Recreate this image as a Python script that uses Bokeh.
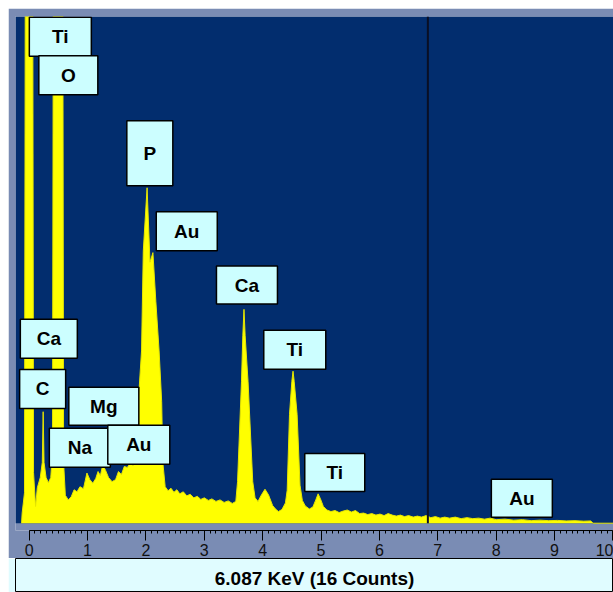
from bokeh.plotting import figure
from bokeh.models import BoxAnnotation, Range1d, FixedTicker, ColumnDataSource
from bokeh.layouts import column
from bokeh.core.properties import value
from bokeh.embed import file_html
from bokeh.resources import INLINE

# ---------------- data (energy in keV, counts in arbitrary units) ----------------
energy_kev = [-0.13, -0.12, -0.08, -0.065, 0.06, 0.075, 0.11, 0.14, 0.19, 0.225, 0.24, 0.255,
              0.29, 0.33, 0.37, 0.40, 0.415, 0.575, 0.59, 0.62, 0.67, 0.72, 0.77, 0.82, 0.87,
              0.93, 0.99, 1.04, 1.09, 1.14, 1.18, 1.22, 1.26, 1.31, 1.36, 1.42, 1.48, 1.53,
              1.58, 1.63, 1.68, 1.73, 1.78, 1.82, 1.85, 1.87, 1.925, 1.955, 2.02, 2.07, 2.12,
              2.17, 2.226, 2.27, 2.29, 2.33, 2.38, 2.43, 2.48, 2.53, 2.58, 2.64, 2.70, 2.76,
              2.82, 2.88, 2.94, 3.00, 3.07, 3.13, 3.20, 3.27, 3.34, 3.41, 3.48, 3.54, 3.57,
              3.637, 3.66, 3.68, 3.70, 3.75, 3.83, 3.87, 3.92, 3.98, 4.04, 4.10, 4.17, 4.22,
              4.27, 4.33, 4.39, 4.42, 4.46, 4.50, 4.52, 4.54, 4.59, 4.64, 4.68, 4.73, 4.80,
              4.86, 4.91, 4.95, 4.99, 5.04, 5.10, 5.17, 5.24, 5.31, 5.38, 5.45, 5.52, 5.59,
              5.66, 5.73, 5.80, 5.87, 5.94, 6.01, 6.08, 6.15, 6.22, 6.29, 6.36, 6.43, 6.50,
              6.58, 6.65, 6.72, 6.80, 6.88, 6.96, 7.04, 7.12, 7.20, 7.30, 7.40, 7.50, 7.60,
              7.70, 7.80, 7.90, 8.00, 8.15, 8.30, 8.45, 8.60, 8.75, 8.90, 9.05, 9.20, 9.35,
              9.50, 9.62, 9.66, 10.1]
counts = [0.0, 2.0, 6.0, 120, 120, 10, 3.3, 7.0, 9.0, 12, 22, 12,
          9, 8, 9, 14, 120, 120, 12, 5.5, 4.6, 5.2, 6.6, 6.2, 7.2,
          6.8, 9.9, 8.6, 7.9, 8.8, 10.2, 9.4, 11.5, 10.4, 9.0, 8.2, 8.6, 10.2,
          9.6, 11.2, 11.0, 11.8, 11.4, 12.2, 16, 24, 34, 53.7, 66.2, 51.5, 53.4,
          43.8, 34, 24, 12, 7.2, 6.4, 6.9, 6.1, 6.6, 5.8, 6.2, 5.4, 5.7,
          5.0, 5.3, 4.7, 5.0, 4.5, 4.8, 4.3, 4.6, 4.1, 4.4, 3.9, 4.3, 8.2,
          27.9, 37, 42.2, 37, 27.9, 8.2, 5.0, 4.3, 5.6, 6.7, 5.6, 3.5, 2.8,
          2.3, 2.7, 4.0, 6.5, 21.5, 28, 30, 28, 21.5, 7.5, 4.5, 3.4, 2.8,
          3.2, 4.6, 5.8, 4.8, 3.3, 2.6, 2.3, 2.5, 2.1, 2.4, 2.6, 2.2, 2.5,
          1.9, 2.0, 1.7, 1.9, 1.6, 1.8, 1.5, 1.9, 1.6, 1.4, 1.6, 1.3, 1.5,
          1.2, 1.4, 1.2, 1.5, 1.1, 1.3, 1.0, 1.2, 1.0, 1.2, 0.9, 1.1, 0.9,
          1.0, 0.8, 1.0, 0.7, 0.8, 0.6, 0.7, 0.5, 0.6, 0.5, 0.55, 0.45, 0.5,
          0.4, 0.45, 0.0, 0.0]

# element tags: text, box centre (keV, counts), box size (px)
tag_text = ["Ti", "O", "P", "Au", "Ca", "Ti", "Ti", "Au", "Ca", "C", "Mg", "Na", "Au"]
tag_x = [0.534, 0.671, 2.067, 2.70, 3.731, 4.55, 5.235, 8.44, 0.337, 0.231, 1.279, 0.868, 1.878]
tag_y = [96.0, 88.4, 73.0, 57.6, 47.0, 34.25, 10.0, 4.94, 36.4, 26.5, 23.1, 14.9, 15.5]
tag_w = [62, 59, 46, 61, 61, 62, 60, 61, 57, 46, 70, 61, 62]
tag_h = [39, 39, 65, 39, 38, 39, 38, 38, 39, 39, 38, 39, 39]

tick_values = list(range(0, 11))
cursor_kev = 6.83
readout = "6.087 KeV (16 Counts)"

# ---------------- styling ----------------
FRAME = "#7a8cb4"
DARK = "#022d6e"
YELLOW = "#ffff00"
TAGFILL = "#ccfeff"
FONT = "Liberation Sans"

p = figure(width=605, height=550, output_backend="svg", toolbar_location=None,
           x_range=Range1d(-0.234, 10.01), y_range=Range1d(-1.44, 100.0),
           min_border_left=7, min_border_right=0, min_border_top=8, min_border_bottom=27)
p.background_fill_color = FRAME
p.border_fill_color = FRAME
p.outline_line_color = None
p.grid.visible = False
p.yaxis.visible = False

p.add_layout(BoxAnnotation(bottom=0, fill_color=DARK, fill_alpha=1.0, line_color=None,
                           level="underlay"))

src = ColumnDataSource(dict(x=energy_kev, y=counts))
p.varea(x="x", y1=0, y2="y", source=src, fill_color=YELLOW)
p.line(x="x", y="y", source=src, line_color="#e6e600", line_width=1)

# cursor line
p.segment(x0=[cursor_kev], y0=[0], x1=[cursor_kev], y1=[100], line_color="#0a0f24",
          line_width=2)

# tags
tsrc = ColumnDataSource(dict(x=tag_x, y=tag_y, w=tag_w, h=tag_h, t=tag_text))
p.rect(x="x", y="y", width="w", height="h", width_units="screen", height_units="screen",
       source=tsrc, fill_color=TAGFILL, line_color="black", line_width=1.5)
p.text(x="x", y="y", text="t", source=tsrc, text_align="center", text_baseline="middle",
       text_font=value(FONT), text_font_style="bold", text_font_size="19px",
       text_color="black")

ax = p.xaxis[0]
ax.bounds = (0, 10)
ax.ticker = FixedTicker(ticks=tick_values,
                        minor_ticks=[i / 10 for i in range(0, 101)])
ax.axis_line_color = "black"
ax.major_tick_line_color = "black"
ax.minor_tick_line_color = "black"
ax.major_tick_in = 0
ax.major_tick_out = 10
ax.minor_tick_in = 0
ax.minor_tick_out = 3
ax.major_label_standoff = 3
ax.major_label_text_font = FONT
ax.major_label_text_font_size = "16px"
ax.major_label_text_color = "#111111"

# readout box
q = figure(width=605, height=34, output_backend="svg", toolbar_location=None,
           x_range=Range1d(0, 1), y_range=Range1d(0, 1),
           min_border=0)
q.background_fill_color = "#e0fcff"
q.border_fill_color = "#e0fcff"
q.outline_line_color = "black"
q.outline_line_width = 1
q.axis.visible = False
q.grid.visible = False
q.text(x=[0.5], y=[0.42], text=[readout], text_align="center", text_baseline="middle",
       text_font=value(FONT), text_font_style="bold", text_font_size="19px",
       text_color="black")

layout = column(p, q, spacing=0, margin=(8, 0, 0, 8))
open("out.html", "w").write(file_html(layout, INLINE))
